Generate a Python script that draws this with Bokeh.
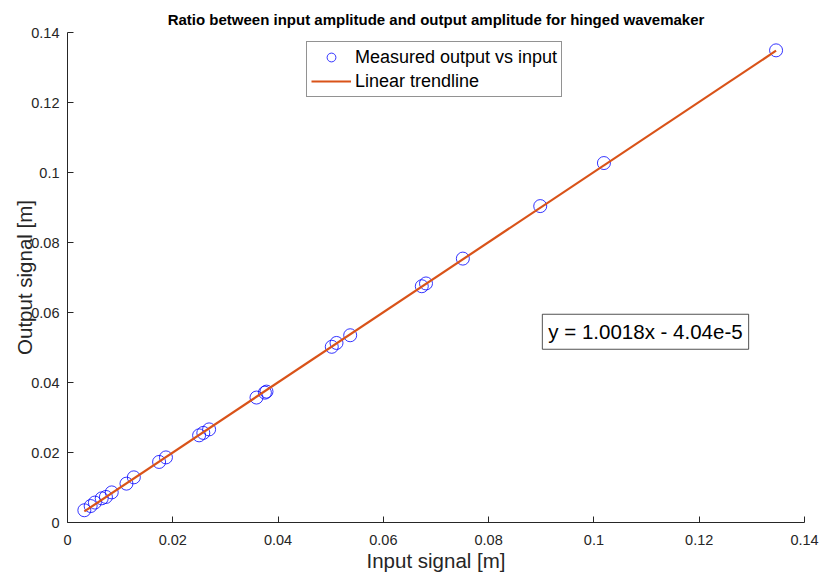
from bokeh.plotting import figure
from bokeh.models import (ColumnDataSource, FixedTicker, CustomJSTickFormatter, Range1d,
                          Label, Legend, LegendItem)
from bokeh.embed import file_html
from bokeh.resources import INLINE

# measured data (input amplitude, output amplitude) [m]
input_signal = [0.0032, 0.0044, 0.0052, 0.0065, 0.0073, 0.0084, 0.0112, 0.0126,
                0.0174, 0.0187, 0.0250, 0.0258, 0.0269, 0.0359, 0.0375, 0.0378,
                0.0502, 0.0511, 0.0537, 0.0673, 0.0681, 0.0751, 0.0898, 0.1019, 0.1346]
output_signal = [0.0035, 0.0047, 0.0057, 0.0069, 0.0073, 0.0086, 0.0111, 0.0129,
                 0.0173, 0.0186, 0.0249, 0.0256, 0.0266, 0.0357, 0.0371, 0.0374,
                 0.0502, 0.0513, 0.0535, 0.0675, 0.0683, 0.0754, 0.0904, 0.1027, 0.1349]
slope = 1.0018
intercept = -4.04e-5
tick_values = [0.0, 0.02, 0.04, 0.06, 0.08, 0.10, 0.12, 0.14]
title_text = "Ratio between input amplitude and output amplitude for hinged wavemaker"
equation_text = "y = 1.0018x - 4.04e-5"

FONT = "Liberation Sans"
TXT = "#262626"

p = figure(width=819, height=574, output_backend="svg", toolbar_location=None,
           x_range=Range1d(0, 0.14), y_range=Range1d(0, 0.14),
           min_border_left=67, min_border_right=15, min_border_top=32, min_border_bottom=52)
p.title.text = title_text
p.title.align = "center"
p.title.text_font = FONT
p.title.text_font_size = "15px"
p.title.text_font_style = "bold"
p.title.text_color = "#000000"

p.outline_line_color = None
p.xgrid.visible = False
p.ygrid.visible = False
p.background_fill_color = "white"
p.border_fill_color = "white"

fmt = CustomJSTickFormatter(code="return tick.toFixed(2).replace(/\\.?0+$/, '');")
for ax in (p.xaxis[0], p.yaxis[0]):
    ax.ticker = FixedTicker(ticks=tick_values)
    ax.formatter = fmt
    ax.major_tick_in = 6
    ax.major_tick_out = 0
    ax.minor_tick_line_color = None
    ax.axis_line_color = TXT
    ax.major_tick_line_color = TXT
    ax.major_label_text_font = FONT
    ax.major_label_text_font_size = "14.5px"
    ax.major_label_text_color = TXT
    ax.axis_label_text_font = FONT
    ax.axis_label_text_font_size = "20.5px"
    ax.axis_label_text_font_style = "normal"
    ax.axis_label_text_color = TXT
p.xaxis.axis_label = "Input signal [m]"
p.yaxis.axis_label = "Output signal [m]"
p.xaxis.major_label_standoff = 12
p.yaxis.major_label_standoff = 8
p.xaxis.axis_label_standoff = 1
p.yaxis.axis_label_standoff = -8

src = ColumnDataSource(dict(x=input_signal, y=output_signal))
sc = p.scatter("x", "y", source=src, marker="circle", size=13, fill_color=None,
               line_color="#0000FF", line_width=0.8)

x0, x1 = min(input_signal), max(input_signal)
ln = p.line([x0, x1], [slope * x0 + intercept, slope * x1 + intercept],
            line_color="#D95319", line_width=2.2)

legend = Legend(items=[LegendItem(label="Measured output vs input", renderers=[sc]),
                       LegendItem(label="Linear trendline", renderers=[ln])],
                location=(239, 425), orientation="vertical")
legend.label_text_font = FONT
legend.label_text_font_size = "18px"
legend.label_text_color = "#000000"
legend.border_line_color = TXT
legend.border_line_width = 0.8
legend.background_fill_alpha = 1
legend.padding = 4
legend.spacing = 2
legend.margin = 0
legend.glyph_width = 40
legend.label_standoff = 4
legend.label_height = 22
legend.glyph_height = 22
p.add_layout(legend, "center")

eq = Label(x=0.0902, y=0.0495, text=equation_text, text_font=FONT, text_font_size="20.5px",
           text_color="#000000", border_line_color=TXT, border_line_width=0.8,
           background_fill_color="white", padding=6)
p.add_layout(eq)

open("out.html", "w").write(file_html(p, INLINE))
